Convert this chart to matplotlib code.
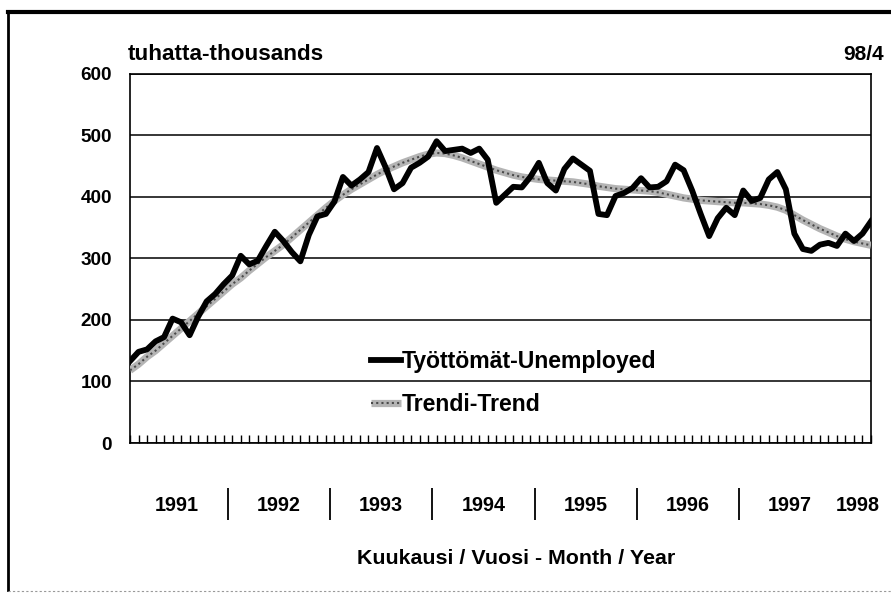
import numpy as np
import matplotlib
matplotlib.use("Agg")
import matplotlib.pyplot as plt
from matplotlib.lines import Line2D

# Monthly series, Jan 1991 .. Apr 1998 (thousands).
UNEMPLOYED = [
    133, 148, 152, 165, 172, 202, 196, 175, 205, 230, 242, 258,   # 1991
    272, 304, 290, 296, 320, 343, 328, 310, 295, 338, 368, 372,   # 1992
    392, 432, 418, 428, 440, 479, 448, 412, 422, 447, 455, 465,   # 1993
    490, 474, 476, 478, 471, 478, 460, 390, 403, 416, 415, 432,   # 1994
    455, 422, 410, 445, 462, 452, 442, 372, 370, 401, 406, 414,   # 1995
    430, 415, 416, 425, 452, 443, 410, 372, 336, 365, 382, 370,   # 1996
    410, 393, 398, 428, 440, 412, 340, 315, 312, 322, 325, 320,   # 1997
    340, 328, 340, 360,                                           # 1998
]
TREND = [
    118, 128, 140, 150, 162, 174, 186, 198, 210, 222, 234, 246,
    258, 268, 280, 291, 302, 312, 322, 334, 346, 358, 370, 382,
    393, 403, 412, 420, 428, 436, 443, 449, 455, 460, 465, 469,
    471, 470, 467, 463, 458, 453, 448, 443, 439, 435, 432, 430,
    428, 427, 426, 425, 424, 422, 420, 417, 415, 413, 412, 411,
    410, 409, 407, 404, 401, 398, 396, 394, 393, 392, 391, 390,
    390, 389, 388, 386, 383, 378, 370, 362, 355, 348, 342, 336,
    331, 327, 324, 321,
]
YEARS = ["1991", "1992", "1993", "1994", "1995", "1996", "1997", "1998"]
Y_TICKS = [0, 100, 200, 300, 400, 500, 600]

FONT = ["Liberation Sans", "DejaVu Sans"]

W, H = 891, 595
fig = plt.figure(figsize=(W / 100, H / 100), dpi=100)
ax = fig.add_axes([130 / W, 1 - 443 / H, (871 - 130) / W, (443 - 73.5) / H])

x = np.arange(len(UNEMPLOYED))

tr_base, = ax.plot(x, TREND, color="#b4b4b4", lw=5.2, zorder=3,
                   solid_capstyle="butt")
tr_dots, = ax.plot(x, TREND, color="#4a4a4a", lw=1.5, ls=(0, (1, 1.5)),
                   zorder=3)
un_line, = ax.plot(x, UNEMPLOYED, color="black", lw=4.2, zorder=4)

ax.set_xlim(0, len(UNEMPLOYED) - 1)
ax.set_ylim(0, 600)
ax.set_yticks(Y_TICKS)
ax.set_yticklabels([str(v) for v in Y_TICKS], family=FONT,
                   fontweight="bold", fontsize=13.6)
ax.tick_params(axis="y", length=0, pad=13)
ax.set_xticks(x)
ax.set_xticklabels([])
ax.tick_params(axis="x", direction="in", length=6, width=1)
ax.yaxis.grid(True, color="black", lw=1.1)
ax.set_axisbelow(True)
for s in ax.spines.values():
    s.set_linewidth(1.2)

# year labels and separators under the axis
xt = ax.get_xaxis_transform()
for i, yr in enumerate(YEARS):
    start = 12 * i
    end = min(start + 12, len(UNEMPLOYED))
    ax.text((start + end - 1) / 2, -0.168, yr, transform=xt, ha="center",
            va="center", family=FONT, fontweight="bold", fontsize=14.2)
seps = [12 * i - 0.5 for i in range(1, 7)]
ax.vlines(seps, -0.122, -0.208, transform=xt, color="black", lw=1.3,
          clip_on=False)

leg = ax.legend(
    [un_line, (tr_base, tr_dots)],
    ["Työttömät-Unemployed", "Trendi-Trend"],
    loc="upper left", bbox_to_anchor=(371 / W, 1 - 350 / H),
    bbox_transform=fig.transFigure, frameon=False, borderpad=0,
    borderaxespad=0, handlelength=1.3, handletextpad=0.05,
    labelspacing=0.88,
    prop={"family": FONT, "weight": "bold", "size": 16.6},
)

fig.text(128 / W, 1 - 55 / H, "tuhatta-thousands", ha="left", va="center",
         family=FONT, fontweight="bold", fontsize=16.2)
fig.text(884 / W, 1 - 55 / H, "98/4", ha="right", va="center",
         family=FONT, fontweight="bold", fontsize=15)
fig.text(516 / W, 1 - 559 / H, "Kuukausi / Vuosi - Month / Year",
         ha="center", va="center", family=FONT, fontweight="bold",
         fontsize=15.4)

# outer frame
fig.add_artist(Line2D([8 / W, 1], [1 - 12 / H, 1 - 12 / H],
                      transform=fig.transFigure, color="black", lw=3))
fig.add_artist(Line2D([8 / W, 8 / W], [1 - 12 / H, 1 - 590 / H],
                      transform=fig.transFigure, color="black", lw=2))
fig.add_artist(Line2D([8 / W, 1], [1 - 591 / H, 1 - 591 / H],
                      transform=fig.transFigure, color="#999999", lw=0.8,
                      ls=(0, (2, 2))))

fig.savefig("out.png", dpi=100)
